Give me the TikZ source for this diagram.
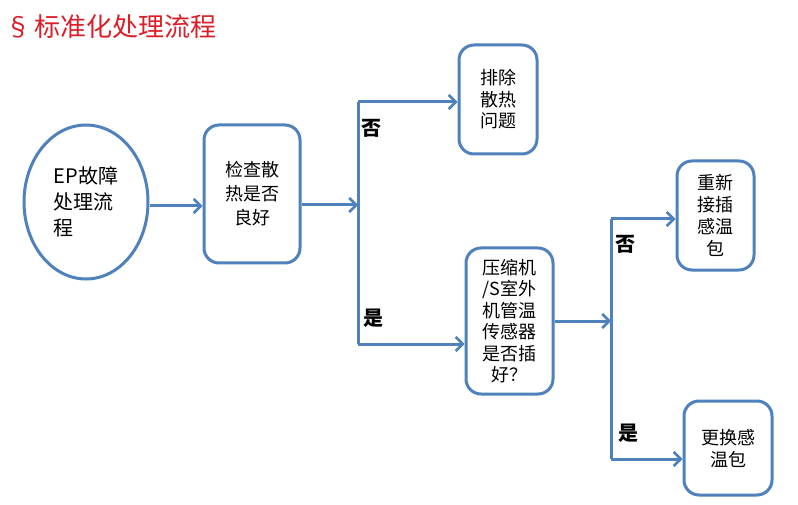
\documentclass[tikz,border=0pt]{standalone}
\usepackage{fontspec}
\setmainfont{Noto Sans CJK SC}
\newfontfamily\cjk{Noto Sans CJK SC}
\usetikzlibrary{arrows.meta,shapes.geometric}
\definecolor{lineblue}{RGB}{79,129,189}
\definecolor{titlered}{RGB}{220,30,40}
\tikzset{
  boxnode/.style={draw=lineblue, line width=3pt, rounded corners=15pt, align=center, inner sep=0pt, font=\fontsize{18}{21.5}\selectfont\cjk},
  conn/.style={draw=lineblue, line width=3pt},
  arr/.style={conn, -{Straight Barb[length=7pt,width=14pt,line width=2.5pt]}},
  lbl/.style={font=\fontsize{20}{22}\selectfont\cjk\bfseries, inner sep=0pt}
}
\begin{document}
\begin{tikzpicture}[x=1pt,y=-1pt]
\useasboundingbox (0,0) rectangle (798,505);
\fill[white] (0,0) rectangle (798,505);
\node[anchor=west, text=titlered, font=\fontsize{26}{28}\selectfont\cjk, inner sep=0pt] (title) at (5,27) {§\hspace{3pt}标准化处理流程};
\node[ellipse, draw=lineblue, line width=3pt, minimum width=124pt, minimum height=154pt, align=left, inner sep=0pt, font=\fontsize{20}{26}\selectfont\cjk] (ep) at (86,202) {EP故障\\处理流\\程};
\node[boxnode, minimum width=96pt, minimum height=138pt, font=\fontsize{18}{24}\selectfont\cjk] (b1) at (252,194) {检查散\\热是否\\良好};
\node[boxnode, minimum width=78pt, minimum height=109pt] (b2) at (498,99.5) {排除\\散热\\问题};
\node[boxnode, minimum width=87pt, minimum height=146pt] (b3) at (509.5,321) {压缩机\\/S室外\\机管温\\传感器\\是否插\\好？};
\node[boxnode, minimum width=77pt, minimum height=109pt, font=\fontsize{18}{22}\selectfont\cjk] (b4) at (715.5,215.5) {重新\\接插\\感温\\包};
\node[boxnode, minimum width=88pt, minimum height=94pt, font=\fontsize{18}{22}\selectfont\cjk] (b5) at (728,448) {更换感\\温包};
\coordinate (j1) at (358,205);
\coordinate (j1t) at (358,102);
\coordinate (j1b) at (358,344);
\coordinate (j2) at (611,321);
\coordinate (j2t) at (611,219);
\coordinate (j2b) at (611,459);
\draw[arr] (ep.east |- 0,206) -- (b1.west |- 0,206);
\draw[arr] (b1.east |- j1) -- (j1);
\draw[conn] (j1t) -- (j1b);
\draw[arr] (j1t) -- (b2.west |- j1t);
\draw[arr] (j1b) -- (b3.west |- j1b);
\draw[arr] (b3.east |- j2) -- (j2);
\draw[conn] (j2t) -- (j2b);
\draw[arr] (j2t) -- (b4.west |- j2t);
\draw[arr] (j2b) -- (b5.west |- j2b);
\node[lbl] (n1) at (371,128) {否};
\node[lbl] (y1) at (373,318) {是};
\node[lbl] (n2) at (625,244) {否};
\node[lbl] (y2) at (628,433) {是};
\end{tikzpicture}
\end{document}
